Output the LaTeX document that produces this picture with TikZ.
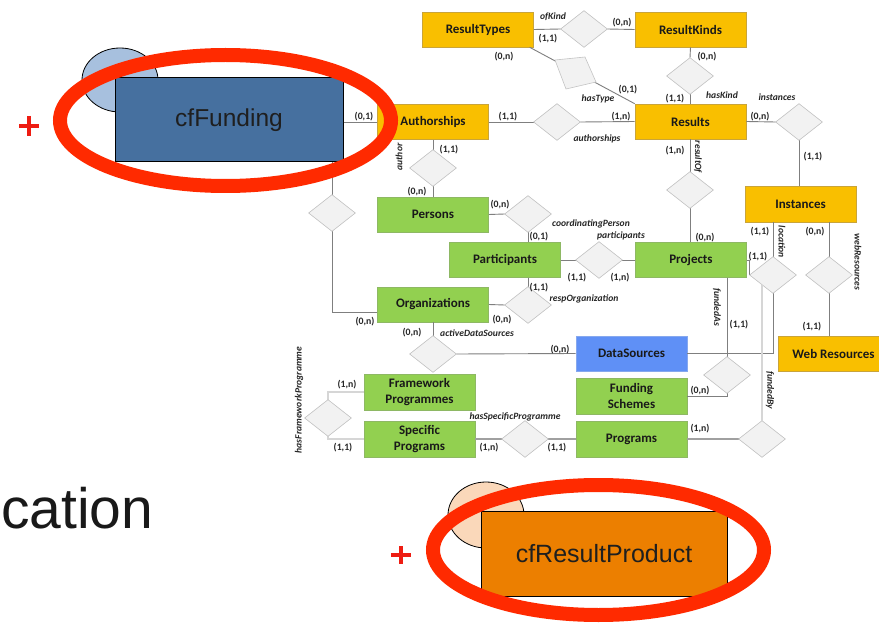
\documentclass[tikz,border=0pt]{standalone}
\usepackage{fontspec}
\setmainfont{Carlito}
\newfontfamily\hv{Liberation Sans}
\usetikzlibrary{shapes.geometric,calc}
\definecolor{yelfill}{HTML}{F9BF00}
\definecolor{yelline}{HTML}{C9A43A}
\definecolor{grnfill}{HTML}{92D050}
\definecolor{grnline}{HTML}{8EB864}
\definecolor{blufill}{HTML}{5F90F6}
\definecolor{bluline}{HTML}{86A8EE}
\definecolor{relfill}{HTML}{F2F2F2}
\definecolor{relline}{HTML}{C4C4C4}
\definecolor{connc}{HTML}{7F7F7F}
\definecolor{medc}{HTML}{A0A0A0}
\definecolor{lightc}{HTML}{D6D6D6}
\definecolor{ringred}{HTML}{FF2A00}
\definecolor{plusred}{HTML}{EE1C12}
\definecolor{fundblue}{HTML}{46709F}
\definecolor{fundlight}{HTML}{A7C0DE}
\definecolor{prodorange}{HTML}{EC7F00}
\definecolor{prodlight}{HTML}{FAD8BA}
\begin{document}
\begin{tikzpicture}[x=1pt,y=-1pt,
  entity/.style={rectangle, line width=0.6pt, minimum width=111pt, minimum height=35pt,
    inner sep=0pt, align=center, text=black!90,
    font=\fontsize{13}{16.5}\selectfont\bfseries},
  yentity/.style={entity, draw=yelline, fill=yelfill},
  gentity/.style={entity, draw=grnline, fill=grnfill},
  bentity/.style={entity, draw=bluline, fill=blufill},
  rel/.style={diamond, draw=relline, fill=relfill, line width=0.6pt,
    minimum width=46pt, minimum height=36pt, inner sep=0pt},
  card/.style={inner sep=0pt, text=black!85, font=\fontsize{9.8}{10}\selectfont\bfseries},
  rname/.style={inner sep=0pt, text=black!85, font=\fontsize{9.6}{10}\selectfont\bfseries\itshape},
  conn/.style={draw=connc, line width=0.9pt},
  mconn/.style={draw=medc, line width=1.1pt},
  lconn/.style={draw=lightc, line width=1.2pt},
  redring/.style={draw=ringred, line width=14pt},
  redplus/.style={draw=plusred, line width=4.5pt}]
\useasboundingbox (0,0) rectangle (879,623);
\fill[white] (0,0) rectangle (879,623);

% ---------- entities ----------
\node[yentity] (ResultTypes) at (478,29.5) {ResultTypes};
\node[yentity] (ResultKinds) at (690.5,29.5) {ResultKinds};
\node[yentity] (Authorships) at (433,122) {Authorships};
\node[yentity] (Results) at (690.5,121.5) {Results};
\node[gentity] (Persons) at (433,214.5) {Persons};
\node[gentity] (Participants) at (505,260) {Participants};
\node[gentity] (Projects) at (691,260) {Projects};
\node[gentity] (Organizations) at (433,304.5) {Organizations};
\node[yentity, minimum height=36pt] (Instances) at (800.5,204) {Instances};
\node[yentity] (WebResources) at (833.5,353.5) {Web Resources};
\node[bentity] (DataSources) at (631.5,353.5) {DataSources};
\node[gentity, minimum height=36pt] (FrameworkProgrammes) at (419.5,392) {Framework\\Programmes};
\node[gentity, minimum height=36pt] (FundingSchemes) at (631.5,396) {Funding\\Schemes};
\node[gentity, minimum height=36pt] (SpecificPrograms) at (419.5,439) {Specific\\Programs};
\node[gentity, minimum height=36pt] (Programs) at (631.5,439) {Programs};

% ---------- relationships ----------
\node[rel] (dOfKind) at (584,29) {};
\node[rel] (dHasKind) at (690,76) {};
\node[rel] (dAuthorships) at (557,122) {};
\node[rel] (dInstances) at (799,122) {};
\node[rel] (dAuthor) at (433,168) {};
\node[rel] (dFund) at (332,213) {};
\node[rel] (dResultOf) at (690,190) {};
\node[rel] (dCoord) at (528,214) {};
\node[rel] (dPart) at (599,260) {};
\node[rel] (dResp) at (528,305) {};
\node[rel] (dActive) at (433,354) {};
\node[rel] (dLocation) at (773,275) {};
\node[rel] (dWeb) at (829,275) {};
\node[rel] (dFundedAs) at (727,375) {};
\node[rel] (dFundedBy) at (762,439) {};
\node[rel] (dSpec) at (525,439) {};
\node[rel] (dFrame) at (328,418) {};

% ---------- connectors ----------
\draw[conn] (ResultTypes.east) -- (dOfKind.west);
\draw[conn] (dOfKind.east) -- (ResultKinds.west);
\draw[conn] (ResultTypes.-19.3) -- (Results.north west);
\draw[conn] (ResultKinds.south) -- (dHasKind.north);
\draw[conn] (dHasKind.south) -- (dHasKind.south |- Results.north);
\draw[conn] (Authorships.east) -- (dAuthorships.west);
\draw[conn] (dAuthorships.east) -- (Results.west);
\draw[conn] (Results.east) -- (dInstances.west);
\draw[conn] (dInstances.south) -- (dInstances.south |- Instances.north);
\draw[conn] (dResultOf.north |- Results.south) -- (dResultOf.north);
\draw[conn] (dResultOf.south) -- (dResultOf.south |- Projects.north);
\draw[conn] (Authorships.south) -- (dAuthor.north);
\draw[conn] (dAuthor.south) -- (Persons.north);
\draw[conn] (Persons.east) -- (dCoord.west);
\draw[conn] (dCoord.south) -- (dCoord.south |- Participants.north);
\draw[conn] (Participants.east) -- (dPart.west);
\draw[conn] (dPart.east) -- (Projects.west);
\draw[conn] (dResp.north |- Participants.south) -- (dResp.north);
\draw[conn] (dResp.west) -- (Organizations.east);
\draw[conn] (Organizations.south) -- (dActive.north);
\draw[conn] (dActive.east) -- (DataSources.west);
\draw[conn] (DataSources.east) -| (dLocation.south);
\draw[conn] (dLocation.north |- Instances.south) -- (dLocation.north);
\draw[conn] (Projects.east) -| (dLocation.west);
\draw[conn] (dWeb.north |- Instances.south) -- (dWeb.north);
\draw[conn] (dWeb.south) -- (dWeb.south |- WebResources.north);
\draw[conn] (dFundedAs.north |- Projects.south) -- (dFundedAs.north);
\draw[conn] (FundingSchemes.east) -| (dFundedAs.south);
\draw[mconn] (Programs.east) -- (dFundedBy.west);
\coordinate (fbTop) at (762,285);
\draw[mconn] (SpecificPrograms.east) -- (dSpec.west);
\draw[mconn] (dSpec.east) -- (Programs.west);
\draw[lconn] (dFrame.north) |- (FrameworkProgrammes.west);
\draw[lconn] (dFrame.south) |- (SpecificPrograms.west);

% redraw diamonds over lines
\foreach \d in {dOfKind,dHasKind,dAuthorships,dInstances,dAuthor,dResultOf,dCoord,dPart,dResp,dActive,dLocation,dWeb,dFundedAs,dFundedBy,dSpec,dFrame}
  {\path[draw=relline, fill=relfill, line width=0.6pt] (\d.north) -- (\d.east) -- (\d.south) -- (\d.west) -- cycle;}
\draw[lconn] (dFundedBy.north) -- (fbTop);
% hasType (skewed)
\coordinate (htA) at (555,60);
\coordinate (htB) at (585,57);
\coordinate (htC) at (596,82);
\coordinate (htD) at (566,89);
\path[draw=relline, fill=relfill, line width=0.6pt] (htA) -- (htB) -- (htC) -- (htD) -- cycle;

% ---------- labels ----------
\node[card] (l1) at (548,39) {(1,1)};
\node[card] (l2) at (622,23) {(0,n)};
\node[rname] (l3) at (553,17) {ofKind};
\node[card] (l4) at (504,57) {(0,n)};
\node[card] (l5) at (628,90) {(0,1)};
\node[rname] (l6) at (598,99) {hasType};
\node[card] (l7) at (707,57) {(0,n)};
\node[card] (l8) at (675,99) {(1,1)};
\node[rname] (l9) at (722,95) {hasKind};
\node[card] (l10) at (364,117) {(0,1)};
\node[card] (l11) at (508,117) {(1,1)};
\node[card] (l12) at (621,117) {(1,n)};
\node[rname] (l13) at (597,139) {authorships};
\node[card] (l14) at (760,117) {(0,n)};
\node[rname] (l15) at (777,97) {instances};
\node[card] (l16) at (813,157) {(1,1)};
\node[card] (l17) at (449,150) {(1,1)};
\node[rname, rotate=90] (l18) at (399,157) {author};
\node[card] (l19) at (675,151) {(1,n)};
\node[rname, rotate=-90] (l20) at (698,157) {resultOf};
\node[card] (l21) at (417,192) {(0,n)};
\node[card] (l22) at (500,205) {(0,n)};
\node[card] (l23) at (539,237) {(0,1)};
\node[rname] (l24) at (591,224) {coordinatingPerson};
\node[rname] (l25) at (621,236) {participants};
\node[card] (l26) at (705,238) {(0,n)};
\node[card] (l27) at (577,278) {(1,1)};
\node[card] (l28) at (620,278) {(1,n)};
\node[card] (l29) at (539,288) {(1,1)};
\node[rname] (l30) at (584,299) {respOrganization};
\node[card] (l31) at (365,322) {(0,n)};
\node[card] (l32) at (502,320) {(0,n)};
\node[card] (l33) at (412,333) {(0,n)};
\node[rname] (l34) at (477,333) {activeDataSources};
\node[card] (l35) at (560,350) {(0,n)};
\node[card] (l36) at (760,232) {(1,1)};
\node[rname, rotate=-90] (l37) at (782,242) {location};
\node[card] (l38) at (815,232) {(0,n)};
\node[rname, rotate=-90] (l39) at (858,262) {webResources};
\node[card] (l40) at (758,257) {(1,1)};
\node[rname, rotate=-90] (l41) at (717,307) {fundedAs};
\node[card] (l42) at (739,325) {(1,1)};
\node[card] (l43) at (812,327) {(1,1)};
\node[card] (l44) at (700,391) {(0,n)};
\node[rname, rotate=-90] (l45) at (770,390) {fundedBy};
\node[card] (l46) at (700,429) {(1,n)};
\node[card] (l47) at (347,385) {(1,n)};
\node[card] (l48) at (343,448) {(1,1)};
\node[rname, rotate=90] (l49) at (299,400) {hasFrameworkProgramme};
\node[rname] (l50) at (515,417) {hasSpecificProgramme};
\node[card] (l51) at (489,448) {(1,n)};
\node[card] (l52) at (557,448) {(1,1)};

% ---------- overlay: cfFunding ----------
\draw[black, line width=0.8pt, fill=fundlight] (120,80) ellipse [x radius=38pt, y radius=32pt];
\node[rectangle, draw=black, line width=1pt, fill=fundblue, minimum width=228pt, minimum height=84pt,
  inner sep=0pt, text=black!88, font=\hv\fontsize{24.5}{24.5}\selectfont] (cfFunding) at (229,120) {cfFunding};
\draw[conn] (cfFunding.east |- Authorships.west) -- (Authorships.west);
\draw[conn] (dFund.north |- cfFunding.south) -- (dFund.north);
\draw[conn] (dFund.south) |- ($(Organizations.west)+(0,7.5)$);
\path[draw=relline, fill=relfill, line width=0.6pt] (dFund.north) -- (dFund.east) -- (dFund.south) -- (dFund.west) -- cycle;
\draw[redring] (225.5,120.5) ellipse [x radius=165.5pt, y radius=65.5pt];
\draw[redplus] (19,126) -- (39,126) (29,116) -- (29,136);

% ---------- overlay: cfResultProduct ----------
\node[anchor=base west, inner sep=0pt, text=black!90, font=\hv\fontsize{57}{57}\selectfont] (cation) at (1,528) {cation};
\draw[black, line width=0.8pt, fill=prodlight] (486,515) ellipse [x radius=38pt, y radius=33pt];
\node[rectangle, draw=black, line width=1pt, fill=prodorange, minimum width=246pt, minimum height=85pt,
  inner sep=0pt, text=black!88, font=\hv\fontsize{25}{25}\selectfont] (cfResultProduct) at (604,554) {cfResultProduct};
\draw[redring] (598.5,550) ellipse [x radius=165.5pt, y radius=65pt];
\draw[redplus] (391,555) -- (411,555) (401,546) -- (401,564);
\end{tikzpicture}
\end{document}
